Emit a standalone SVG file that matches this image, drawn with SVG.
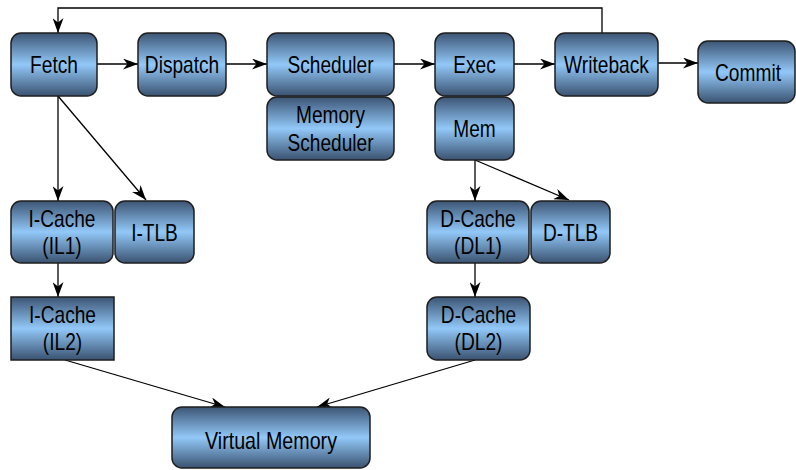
<svg xmlns="http://www.w3.org/2000/svg" width="796" height="470" viewBox="0 0 796 470">
<defs>
<linearGradient id="g" x1="0" y1="0" x2="0" y2="1">
<stop offset="0" stop-color="#3c5574"/>
<stop offset="0.5" stop-color="#92c8f8"/>
<stop offset="1" stop-color="#3a5270"/>
</linearGradient>
<marker id="a" viewBox="0 0 15 11" refX="15" refY="5.5" markerWidth="15" markerHeight="11" markerUnits="userSpaceOnUse" orient="auto">
<path d="M0,0 L15,5.5 L0,11 L4.5,5.5 Z" fill="#000"/>
</marker>
<style>
.n{fill:url(#g);stroke:#1e1e1e;stroke-width:1.5}
.t{font-family:"Liberation Sans",Arial,sans-serif;font-size:24px;fill:#000;text-anchor:middle}
.c{fill:none;stroke:#000;stroke-width:1.3;marker-end:url(#a)}
</style>
</defs>
<g id="connectors">
<line class="c" x1="97" y1="64" x2="138" y2="64"/>
<line class="c" x1="226" y1="64" x2="267" y2="64"/>
<line class="c" x1="394" y1="64" x2="435" y2="64"/>
<line class="c" x1="514" y1="64" x2="555" y2="64"/>
<line class="c" x1="658" y1="63" x2="698" y2="63"/>
<polyline class="c" points="602,33 602,8 58,8 58,33"/>
<line class="c" x1="58" y1="96" x2="58" y2="201"/>
<line class="c" x1="58" y1="96" x2="146" y2="200"/>
<line class="c" x1="58" y1="263" x2="58" y2="297"/>
<line class="c" x1="475" y1="160" x2="475" y2="201"/>
<line class="c" x1="475" y1="160" x2="569" y2="200"/>
<line class="c" x1="475" y1="263" x2="475" y2="297"/>
<line class="c" x1="65" y1="360" x2="225" y2="407"/>
<line class="c" x1="475" y1="360" x2="317" y2="407"/>
</g>
<g id="fetch"><rect class="n" x="11" y="33" width="86" height="63" rx="10"/><text class="t" x="54" y="73" textLength="48" lengthAdjust="spacingAndGlyphs">Fetch</text></g>
<g id="dispatch"><rect class="n" x="138" y="33" width="88" height="63" rx="10"/><text class="t" x="182" y="73" textLength="74.3" lengthAdjust="spacingAndGlyphs">Dispatch</text></g>
<g id="scheduler"><rect class="n" x="267" y="33" width="127" height="63" rx="10"/><text class="t" x="330.5" y="73" textLength="86" lengthAdjust="spacingAndGlyphs">Scheduler</text></g>
<g id="memsched"><rect class="n" x="267" y="97" width="127" height="63" rx="10"/><text class="t" x="330.5" y="123" textLength="69" lengthAdjust="spacingAndGlyphs">Memory</text><text class="t" x="330.5" y="151" textLength="86" lengthAdjust="spacingAndGlyphs">Scheduler</text></g>
<g id="exec"><rect class="n" x="435" y="33" width="79" height="63" rx="10"/><text class="t" x="474.5" y="73" textLength="42.5" lengthAdjust="spacingAndGlyphs">Exec</text></g>
<g id="mem"><rect class="n" x="435" y="97" width="79" height="63" rx="10"/><text class="t" x="474.5" y="137" textLength="42.4" lengthAdjust="spacingAndGlyphs">Mem</text></g>
<g id="writeback"><rect class="n" x="555" y="33" width="103" height="63" rx="10"/><text class="t" x="606.5" y="73" textLength="84.9" lengthAdjust="spacingAndGlyphs">Writeback</text></g>
<g id="commit"><rect class="n" x="698" y="41" width="97" height="62" rx="10"/><text class="t" x="748" y="81" textLength="66" lengthAdjust="spacingAndGlyphs">Commit</text></g>
<g id="il1"><rect class="n" x="11" y="201" width="102" height="62" rx="10"/><text class="t" x="62" y="227" textLength="66.9" lengthAdjust="spacingAndGlyphs">I-Cache</text><text class="t" x="62" y="254" textLength="39.3" lengthAdjust="spacingAndGlyphs">(IL1)</text></g>
<g id="itlb"><rect class="n" x="115" y="201" width="79" height="62" rx="10"/><text class="t" x="154.5" y="241" textLength="46.7" lengthAdjust="spacingAndGlyphs">I-TLB</text></g>
<g id="il2"><rect class="n" x="11" y="297" width="103" height="63"/><text class="t" x="62.5" y="322.5" textLength="66.9" lengthAdjust="spacingAndGlyphs">I-Cache</text><text class="t" x="62.5" y="349.5" textLength="39.3" lengthAdjust="spacingAndGlyphs">(IL2)</text></g>
<g id="dl1"><rect class="n" x="427" y="201" width="102" height="62" rx="10"/><text class="t" x="478" y="227" textLength="75.3" lengthAdjust="spacingAndGlyphs">D-Cache</text><text class="t" x="478" y="254" textLength="47.8" lengthAdjust="spacingAndGlyphs">(DL1)</text></g>
<g id="dtlb"><rect class="n" x="531" y="201" width="79" height="62" rx="10"/><text class="t" x="570.5" y="241" textLength="55.2" lengthAdjust="spacingAndGlyphs">D-TLB</text></g>
<g id="dl2"><rect class="n" x="427" y="297" width="103" height="63" rx="10"/><text class="t" x="478.5" y="322.5" textLength="75.3" lengthAdjust="spacingAndGlyphs">D-Cache</text><text class="t" x="478.5" y="349.5" textLength="47.8" lengthAdjust="spacingAndGlyphs">(DL2)</text></g>
<g id="vm"><rect class="n" x="172" y="407" width="198" height="61" rx="10"/><text class="t" x="271" y="449" textLength="132" lengthAdjust="spacingAndGlyphs">Virtual Memory</text></g>
</svg>
